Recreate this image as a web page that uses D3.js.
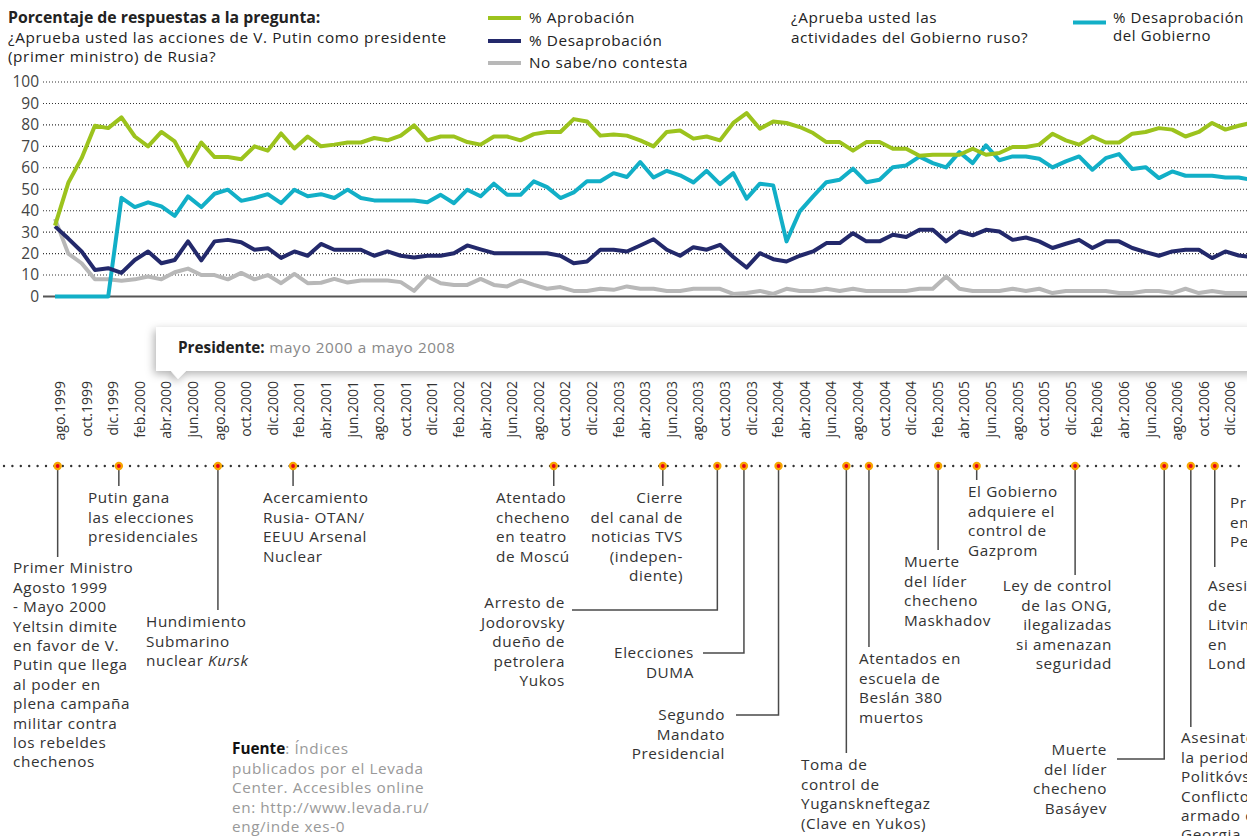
<!DOCTYPE html>
<html>
<head>
<meta charset="utf-8">
<script src="https://cdn.jsdelivr.net/npm/d3@7"></script>
<style>
  body { margin: 0; background: #fff; }
  svg { display: block; font-family: "Open Sans", sans-serif; }
  .t { font-size: 15.3px; letter-spacing: 0.6px; }
</style>
</head>
<body>
<svg id="chart" width="1247" height="836"></svg>
<script>
// monthly values, ago.1999 = index 0
const aprobacion = [33, 53, 64.5, 79.6, 78.5, 83.5, 74.6, 70, 76.7, 72.3,
  61, 71.8, 65, 65, 64, 70, 68, 76, 69, 74.6,
  70, 70.8, 71.8, 71.8, 73.9, 72.8, 75, 79.8, 72.8, 74.6,
  74.6, 72, 70.8, 74.6, 74.6, 72.8, 75.7, 76.7, 76.7, 82.7,
  81.6, 75, 75.5, 75, 72.8, 70, 76.7, 77.4, 73.6, 74.6,
  72.8, 80.9, 85.5, 78.2, 81.6, 80.9, 79, 76.2, 72, 72,
  68, 72, 72, 68.9, 68.9, 65.6, 66.1, 66.1, 66.1, 68.9,
  66.1, 66.9, 69.7, 69.7, 70.8, 75.9, 72.8, 70.8, 74.6, 71.8,
  71.8, 75.9, 76.7, 78.5, 77.8, 74.6, 76.7, 80.9, 77.8, 79.6,
  81];

const desaprobacion = [32.7, 27, 21, 12.4, 13.2, 11, 17, 21, 15.5, 17,
  25.7, 16.8, 25.7, 26.4, 25.3, 21.8, 22.5, 18, 21, 19,
  24.5, 21.8, 21.8, 21.8, 19, 21, 19, 18.2, 19, 19,
  20.2, 23.8, 22, 20.2, 20.2, 20.2, 20.2, 20.2, 19, 15.5,
  16.3, 21.8, 21.8, 21, 23.8, 26.7, 21.8, 19, 23, 21.8,
  24.1, 18.4, 13.5, 20.2, 17.4, 16.3, 19, 21, 24.9, 24.9,
  29.5, 25.7, 25.7, 28.8, 27.7, 31.1, 31.1, 25.7, 30.3, 28.5,
  31.1, 30.3, 26.4, 27.5, 25.7, 22.6, 24.6, 26.4, 22.6, 25.7,
  25.7, 22.6, 20.7, 19, 21, 21.8, 21.8, 17.9, 21, 19.1,
  18.4];

const noSabe = [36.2, 20, 15.5, 8, 8, 7.3, 8, 9.3, 8, 11.3,
  13, 10, 10, 8, 11, 8, 10, 6.2, 10.5, 6.2,
  6.4, 8.2, 6.5, 7.5, 7.5, 7.5, 6.7, 2.6, 9.3, 6.2,
  5.4, 5.4, 8.2, 5.4, 4.7, 7.5, 5.4, 3.6, 4.4, 2.6,
  2.6, 3.6, 3.1, 4.7, 3.6, 3.6, 2.6, 2.6, 3.6, 3.6,
  3.6, 1.2, 1.6, 2.6, 1.2, 3.6, 2.6, 2.6, 3.6, 2.6,
  3.6, 2.6, 2.6, 2.6, 2.6, 3.6, 3.6, 9.3, 3.6, 2.6,
  2.6, 2.6, 3.6, 2.6, 3.6, 1.6, 2.6, 2.6, 2.6, 2.6,
  1.6, 1.6, 2.6, 2.6, 1.6, 3.6, 1.6, 2.6, 1.6, 1.6,
  1.6];

const desaprobGobierno = [0, 0, 0, 0, 0, 46, 41.7, 43.9, 42, 37.6,
  46.7, 41.7, 47.9, 49.8, 44.6, 45.9, 47.7, 43.5, 49.8, 46.7,
  47.7, 45.9, 49.8, 45.9, 44.8, 44.8, 44.8, 44.8, 43.9, 47.4,
  43.5, 49.8, 46.7, 52.6, 47.4, 47.4, 53.7, 51, 45.9, 48.5,
  53.7, 53.7, 57.5, 55.7, 62.7, 55.5, 58.6, 56.5, 53.2, 58.6,
  52.4, 57.5, 45.6, 52.6, 51.8, 25.7, 39.7, 46.7, 53.3, 54.4,
  59.6, 53.3, 54.4, 60.3, 61.1, 65.2, 62.2, 60.2, 67.3, 62.2,
  70.5, 63.5, 65.3, 65.3, 64.2, 60.2, 63, 65.3, 59.1, 64.5,
  66.4, 59.4, 60.3, 55.2, 58.3, 56.3, 56.3, 56.3, 55.5, 55.5,
  54.4];

const monthLabels = ["ago.1999", "oct.1999", "dic.1999", "feb.2000", "abr.2000", "jun.2000",
  "ago.2000", "oct.2000", "dic.2000", "feb.2001", "abr.2001", "jun.2001", "ago.2001",
  "oct.2001", "dic.2001", "feb.2002", "abr.2002", "jun.2002", "ago.2002", "oct.2002",
  "dic.2002", "feb.2003", "abr.2003", "jun.2003", "ago.2003", "oct.2003", "dic.2003",
  "feb.2004", "abr.2004", "jun.2004", "ago.2004", "oct.2004", "dic.2004", "feb.2005",
  "abr.2005", "jun.2005", "ago.2005", "oct.2005", "dic.2005", "feb.2006", "abr.2006",
  "jun.2006", "ago.2006", "oct.2006", "dic.2006"];

const yTicks = [0, 10, 20, 30, 40, 50, 60, 70, 80, 90, 100];

// events on the timeline (month index) and their texts
const eventMonths = [0.2, 4.8, 12.25, 17.9, 37.5, 45.7, 49.8, 51.8, 54.4, 59.5, 61.2,
  66.4, 69.3, 76.7, 83.4, 85.4, 87.2, 90.6];

const eventTexts = [
  ["Primer Ministro", "Agosto 1999", "- Mayo 2000", "Yeltsin dimite", "en favor de V.",
    "Putin que llega", "al poder en", "plena campaña", "militar contra", "los rebeldes", "chechenos"],
  ["Putin gana", "las elecciones", "presidenciales"],
  ["Hundimiento", "Submarino", "nuclear |Kursk"],
  ["Acercamiento", "Rusia- OTAN/", "EEUU Arsenal", "Nuclear"],
  ["Atentado", "checheno", "en teatro", "de Moscú"],
  ["Cierre", "del canal de", "noticias TVS", "(indepen-", "diente)"],
  ["Arresto de", "Jodorovsky", "dueño de", "petrolera", "Yukos"],
  ["Elecciones", "DUMA"],
  ["Segundo", "Mandato", "Presidencial"],
  ["Toma de", "control de", "Yuganskneftegaz", "(Clave en Yukos)"],
  ["Atentados en", "escuela de", "Beslán 380", "muertos"],
  ["Muerte", "del líder", "checheno", "Maskhadov"],
  ["El Gobierno", "adquiere el", "control de", "Gazprom"],
  ["Ley de control", "de las ONG,", "ilegalizadas", "si amenazan", "seguridad"],
  ["Muerte", "del líder", "checheno", "Basáyev"],
  ["Asesinato de", "la periodista", "Politkóvskaya.", "Conflicto", "armado con", "Georgia"],
  ["Asesinato", "de", "Litvinenko", "en", "Londres"],
  ["Protestas", "en", "Petersburgo"]
];

// layout of each annotation: end of leader, optional elbow, text anchor point
const eventLayout = [
  { end: 557, tx: 13, ty: 568, anchor: "start" },
  { end: 486, tx: 88, ty: 498, anchor: "start" },
  { end: 610, tx: 146, ty: 622, anchor: "start" },
  { end: 486, tx: 263, ty: 498, anchor: "start" },
  { end: 486, tx: 496, ty: 498, anchor: "start" },
  { end: 486, tx: 683, ty: 498, anchor: "end" },
  { end: 610, elbow: 572, tx: 565, ty: 603, anchor: "end" },
  { end: 653, elbow: 703, tx: 694, ty: 653, anchor: "end" },
  { end: 715, elbow: 736, tx: 725, ty: 715, anchor: "end" },
  { end: 753, tx: 801, ty: 765, anchor: "start" },
  { end: 647, tx: 859, ty: 659, anchor: "start" },
  { end: 550, tx: 904, ty: 562, anchor: "start" },
  { end: 480, tx: 968, ty: 492, anchor: "start" },
  { end: 575, tx: 1112, ty: 586, anchor: "end" },
  { end: 759, elbow: 1117, tx: 1107, ty: 750, anchor: "end" },
  { end: 727, tx: 1181, ty: 738, anchor: "start" },
  { end: 567, tx: 1208, ty: 586, anchor: "start" },
  { end: 486, tx: 1230, ty: 503, anchor: "start" }
];

const colors = {
  aprob: "#9cc31d",
  desap: "#23296b",
  nosabe: "#b8b8b8",
  gob: "#12afc7"
};

const svg = d3.select("#chart");
const W = 1247;

const x = d3.scaleLinear().domain([0, 90]).range([55, 55 + 90 * 13.3]);
const y = d3.scaleLinear().domain([0, 100]).range([296.5, 82]);

// ---- titles
const title = svg.append("g").attr("fill", "#222");
title.append("text").attr("x", 8).attr("y", 23).style("font-size", "15.8px").style("font-weight", 700)
  .text("Porcentaje de respuestas a la pregunta:");
title.append("text").attr("class", "t").attr("x", 8).attr("y", 43)
  .text("¿Aprueba usted las acciones de V. Putin como presidente");
title.append("text").attr("class", "t").attr("x", 8).attr("y", 62)
  .text("(primer ministro) de Rusia?");

title.append("text").attr("class", "t").attr("x", 791).attr("y", 23).text("¿Aprueba usted las");
title.append("text").attr("class", "t").attr("x", 791).attr("y", 43)
  .text("actividades del Gobierno ruso?");

// ---- legend
const legendItems = [
  { label: "% Aprobación", color: colors.aprob, y: 18 },
  { label: "% Desaprobación", color: colors.desap, y: 41 },
  { label: "No sabe/no contesta", color: colors.nosabe, y: 63 }
];
const legend = svg.selectAll(".legend").data(legendItems).enter().append("g")
  .attr("class", "legend");
legend.append("line").attr("x1", 488).attr("x2", 521)
  .attr("y1", (d) => d.y).attr("y2", (d) => d.y)
  .attr("stroke", (d) => d.color).attr("stroke-width", 4);
legend.append("text").attr("class", "t").attr("x", 529).attr("y", (d) => d.y).attr("dy", "0.35em")
  .attr("fill", "#222").text((d) => d.label);

svg.append("line").attr("x1", 1073).attr("x2", 1106).attr("y1", 22.5).attr("y2", 22.5)
  .attr("stroke", colors.gob).attr("stroke-width", 4);
svg.append("text").attr("class", "t").attr("x", 1113).attr("y", 18).attr("dy", "0.35em")
  .style("font-size", "15px").attr("fill", "#222").text("% Desaprobación");
svg.append("text").attr("class", "t").attr("x", 1113).attr("y", 36).attr("dy", "0.35em")
  .style("font-size", "15px").attr("fill", "#222").text("del Gobierno");

// ---- grid and y axis
svg.append("g").selectAll("line").data(yTicks.filter((d) => d > 0)).enter().append("line")
  .attr("x1", 43).attr("x2", W)
  .attr("y1", (d) => y(d)).attr("y2", (d) => y(d))
  .attr("stroke", "#333").attr("stroke-width", 1.1).attr("stroke-dasharray", "1,2");

svg.append("line").attr("x1", 43).attr("x2", W).attr("y1", y(0)).attr("y2", y(0))
  .attr("stroke", "#555").attr("stroke-width", 2);

svg.append("g").selectAll("text").data(yTicks).enter().append("text")
  .attr("x", 39).attr("y", (d) => y(d)).attr("dy", "0.35em")
  .attr("text-anchor", "end").style("font-size", "15.5px").attr("fill", "#444")
  .text((d) => d);

// ---- series
const line = d3.line().x((d, i) => x(i)).y((d) => y(d)).curve(d3.curveLinear);
const series = [
  { values: noSabe, color: colors.nosabe },
  { values: desaprobGobierno, color: colors.gob },
  { values: desaprobacion, color: colors.desap },
  { values: aprobacion, color: colors.aprob }
];
svg.append("g").selectAll("path").data(series).enter().append("path")
  .attr("d", (d) => line(d.values))
  .attr("fill", "none").attr("stroke", (d) => d.color)
  .attr("stroke-width", 4).attr("stroke-linejoin", "round");

// ---- presidente box
const defs = svg.append("defs");
const f = defs.append("filter").attr("id", "shadow")
  .attr("x", "-10%").attr("y", "-40%").attr("width", "130%").attr("height", "200%");
f.append("feDropShadow").attr("dx", -2).attr("dy", 3).attr("stdDeviation", 4)
  .attr("flood-color", "#000").attr("flood-opacity", 0.3);

svg.append("path")
  .attr("d", "M156,327 H1260 V371 H186 L178,379 L171,371 H156 Z")
  .attr("fill", "#fff").attr("filter", "url(#shadow)");
const pres = svg.append("text").attr("class", "t").attr("x", 178).attr("y", 348).attr("dy", "0.35em");
pres.append("tspan").style("font-weight", 700).style("letter-spacing", "0px")
  .attr("fill", "#222").text("Presidente:");
pres.append("tspan").attr("fill", "#888").text(" mayo 2000 a mayo 2008");

// ---- month labels
svg.append("g").selectAll("text").data(monthLabels).enter().append("text")
  .attr("transform", (d, i) => `translate(${x(i * 2) + 5},381) rotate(-90)`)
  .attr("text-anchor", "end").attr("dy", "0.35em")
  .style("font-size", "14px").attr("fill", "#333")
  .text((d) => d);

// ---- timeline
svg.append("line").attr("x1", 4).attr("x2", W).attr("y1", 466).attr("y2", 466)
  .attr("stroke", "#333").attr("stroke-width", 2.4)
  .attr("stroke-linecap", "round").attr("stroke-dasharray", "0,8.4");

const events = eventMonths.map((m, i) => ({ m, lines: eventTexts[i], lay: eventLayout[i] }));

const ev = svg.append("g").selectAll("g").data(events).enter().append("g");

ev.append("path")
  .attr("d", (d) => {
    const ex = x(d.m);
    let p = `M${ex},466 V${d.lay.end}`;
    if (d.lay.elbow !== undefined) p += ` H${d.lay.elbow}`;
    return p;
  })
  .attr("fill", "none").attr("stroke", "#4a4a4a").attr("stroke-width", 1.5);

ev.append("circle").attr("cx", (d) => x(d.m)).attr("cy", 466).attr("r", 4.2)
  .attr("fill", "#f7a600");
ev.append("circle").attr("cx", (d) => x(d.m)).attr("cy", 466).attr("r", 1.9)
  .attr("fill", "#e3001b");

ev.each(function (d) {
  const t = d3.select(this).append("text").attr("class", "t")
    .attr("text-anchor", d.lay.anchor).attr("fill", "#333");
  d.lines.forEach((ln, k) => {
    const parts = ln.split("|");
    t.append("tspan").attr("x", d.lay.tx)
      .attr("y", d.lay.ty + k * 19.4).attr("dy", "0.35em").text(parts[0]);
    if (parts[1]) {
      t.append("tspan").style("font-style", "italic").text(parts[1]);
    }
  });
});

// ---- source
const src = svg.append("text").attr("class", "t").attr("fill", "#999");
const srcLines = ["publicados por el Levada", "Center. Accesibles online",
  "en: http://www.levada.ru/", "eng/inde xes-0"];
src.append("tspan").attr("x", 232).attr("y", 749).attr("dy", "0.35em")
  .style("font-weight", 700).style("letter-spacing", "0px").attr("fill", "#111").text("Fuente");
src.append("tspan").text(": Índices");
srcLines.forEach((s, k) => {
  src.append("tspan").attr("x", 232).attr("y", 749 + (k + 1) * 19.4)
    .attr("dy", "0.35em").text(s);
});
</script>
</body>
</html>
